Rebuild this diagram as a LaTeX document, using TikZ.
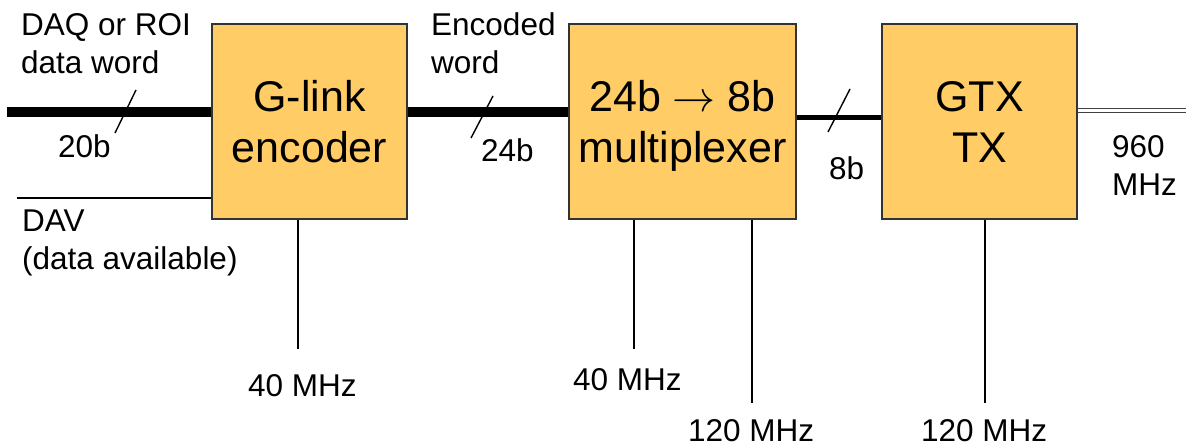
\RequirePackage{fix-cm}
\documentclass[tikz,border=0pt]{standalone}
\usepackage{fontspec}
\setmainfont{Liberation Sans}
\begin{document}
\begin{tikzpicture}[x=1pt,y=-1pt,
  blockbox/.style={draw=black!80, line width=1.3pt, fill=blockfill,
    minimum height=195pt, inner sep=0pt, align=center, text depth=0pt,
    font=\fontsize{43}{51}\selectfont},
  lbl/.style={inner sep=0pt, font=\fontsize{31.5}{38}\selectfont},
  bus/.style={line width=10pt},
  narrowbus/.style={line width=5pt},
  wire/.style={line width=1.4pt},
  tick/.style={line width=1.4pt},
  serial/.style={double=white, draw=black!75, line width=1.1pt, double distance=2.4pt}]
\definecolor{blockfill}{RGB}{255,204,102}
\useasboundingbox (0,0) rectangle (1186,446);

% processing blocks
\node[blockbox, minimum width=195pt] (enc) at (309.5,121.5) {G-link\\encoder};
\node[blockbox, minimum width=227pt] (mux) at (682.5,121.5) {24b $\rightarrow$ 8b\\multiplexer};
\node[blockbox, minimum width=195pt] (gtx) at (979.5,121.5) {GTX\\TX};

% data path
\coordinate (din) at (7,112);
\coordinate (dav) at (17,198);
\coordinate (sout) at (1186,110.5);
\draw[bus] (din) -- (din -| enc.west);
\draw[bus] (enc.east |- din) -- (mux.west |- din);
\draw[narrowbus] ([yshift=-5.5pt]mux.east |- din) -- ([yshift=-5.5pt]gtx.west |- din);
\draw[serial] (gtx.east |- sout) -- (sout);
\draw[wire] (dav) -- (dav -| enc.west);

% bus width ticks
\draw[tick] (136,90) -- (115,133);
\draw[tick] (493,96) -- (471,138);
\draw[tick] (850,89) -- (828,132);

% clock inputs
\coordinate (clkA) at (298,349);
\coordinate (clkB) at (634,349);
\coordinate (clkC) at (752,403);
\coordinate (clkD) at (985,403);
\draw[wire] (clkA |- enc.south) -- (clkA);
\draw[wire] (clkB |- mux.south) -- (clkB);
\draw[wire] (clkC |- mux.south) -- (clkC);
\draw[wire] (clkD |- gtx.south) -- (clkD);

% labels
\node[lbl, anchor=north west, align=left] (tdaq) at (21,13) {DAQ or ROI\\data word};
\node[lbl, anchor=north west, align=left] (tenc) at (431,12) {Encoded\\word};
\node[lbl, anchor=north west, align=left] (tdav) at (22,210) {DAV\\(data available)};
\node[lbl, anchor=north west, align=left] (trate) at (1112,135) {960\\MHz};
\node[lbl, anchor=base west] (w20) at (58,158) {20b};
\node[lbl, anchor=base west] (w24) at (481,162) {24b};
\node[lbl, anchor=base west] (w8) at (829,180) {8b};
\node[lbl, anchor=base west] (fA) at (248,396) {40 MHz};
\node[lbl, anchor=base west] (fB) at (573,390) {40 MHz};
\node[lbl, anchor=base west] (fC) at (688,441) {120 MHz};
\node[lbl, anchor=base west] (fD) at (921,441) {120 MHz};
\end{tikzpicture}
\end{document}
